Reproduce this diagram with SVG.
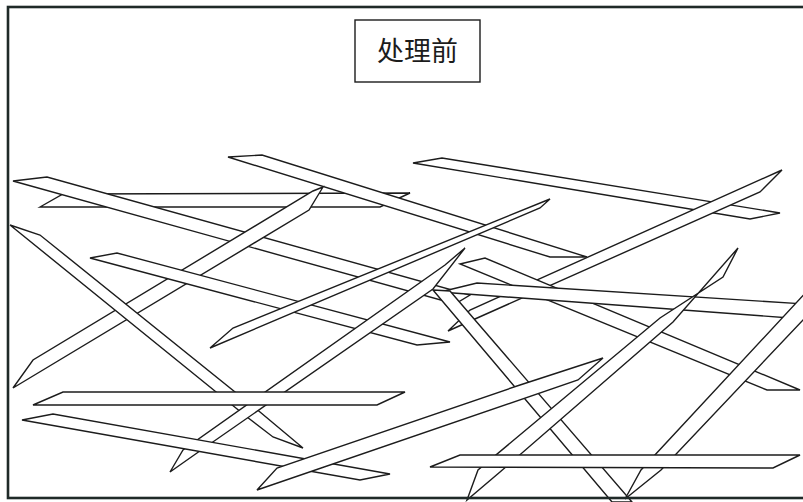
<svg xmlns="http://www.w3.org/2000/svg" width="803" height="502" viewBox="0 0 803 502">
  <style>
    .fiber polygon { fill: #fff; stroke: #1c1c1c; stroke-width: 1.4; stroke-linejoin: miter; }
    .frame { fill: none; stroke: #1f2a28; stroke-width: 2.6; }
    .label-box { fill: #fff; stroke: #1c1c1c; stroke-width: 1.4; }
    .label { font-family: "Noto Sans CJK SC", "Noto Sans CJK JP", sans-serif; font-size: 27px; fill: #1c1c1c; }
  </style>
  <rect width="803" height="502" fill="#fff"/>

  <!-- fibres, drawn back to front -->
  <g class="fiber">
    <g id="fiber-h1"><polygon points="40,207 63,194 410,193 380,207"/></g>
    <g id="fiber-l1"><polygon points="13,181 47,177 470,295 455,304"/></g>
    <g id="fiber-a"><polygon points="228,157 262,155 587,257 550,257"/></g>
    <g id="fiber-p"><polygon points="13,388 33,360 313,191 323,187 309,210"/></g>
    <g id="fiber-q"><polygon points="10,225 40,235 260,412 303,448 273,437 247,417"/></g>
    <g id="fiber-b"><polygon points="413,163 442,158 780,213 750,219"/></g>
    <g id="fiber-c"><polygon points="448,331 470,310 782,170 760,192"/></g>
    <g id="fiber-u"><polygon points="460,264 485,258 800,390 767,390"/></g>
    <g id="fiber-g"><polygon points="440,292 477,283 805,304 790,318"/></g>
    <g id="fiber-f"><polygon points="90,258 117,253 450,342 417,345"/></g>
    <g id="fiber-s"><polygon points="210,348 233,328 550,199 540,208"/></g>
    <g id="fiber-r"><polygon points="170,472 183,450 445,265 465,248 433,289 197,453"/></g>
    <g id="fiber-e"><polygon points="433,290 450,291 632,502 612,502"/></g>
    <g id="fiber-v"><polygon points="467,500 478,470 660,318 723,277 738,248 673,322 500,472"/></g>
    <g id="fiber-w"><polygon points="625,499 641,470 810,288 822,300 661,470"/></g>
    <g id="fiber-h2"><polygon points="33,405 63,392 405,392 377,405"/></g>
    <g id="fiber-h3"><polygon points="22,420 53,414 390,474 360,480"/></g>
    <g id="fiber-t"><polygon points="257,490 277,468 520,385 603,358 578,380"/></g>
    <g id="fiber-h4"><polygon points="430,467 460,455 800,455 773,468"/></g>
  </g>

  <!-- outer frame -->
  <rect class="frame" x="8" y="7" width="800" height="491"/>

  <!-- heading -->
  <g id="title">
    <rect class="label-box" x="355" y="20" width="125" height="62"/>
    <text class="label" x="417.5" y="61" text-anchor="middle">处理前</text>
  </g>
</svg>
